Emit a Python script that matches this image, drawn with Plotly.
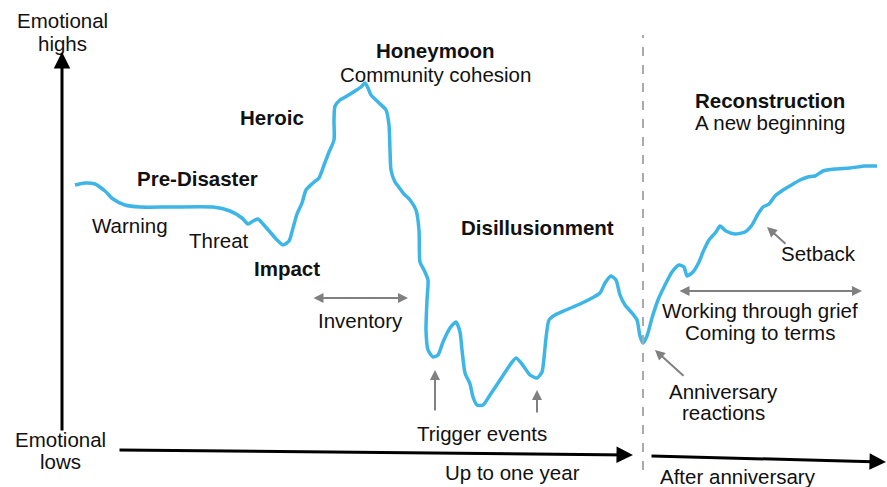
import plotly.graph_objects as go

# Emotional curve (time position, emotional level)
time_pos = [75, 85, 95, 105, 113, 125, 140, 170, 213, 230, 242, 248, 253, 258, 263, 270, 277, 283,
            289, 293, 297, 302, 306, 313, 319, 324, 329, 334, 334, 335, 340, 347, 355, 361, 365, 368,
            371, 378, 386, 389, 390, 391, 395, 398, 404, 410, 416, 419, 420, 424, 428, 427, 426, 428,
            433, 438, 443, 450, 456, 460, 462, 465, 470, 473, 477, 483, 490, 500, 510, 516, 522, 530,
            537, 542, 544, 546, 549, 555, 566, 580, 592, 600, 605, 611, 616, 620, 625, 632, 637, 640,
            643, 647, 652, 658, 665, 672, 679, 684, 687, 693, 699, 703, 709, 716, 720, 726, 735, 745,
            752, 758, 763, 769, 775, 783, 793, 800, 808, 815, 823, 835, 850, 865, 877]
emotion = [302, 304, 303, 296, 288, 282, 280, 280, 280, 276, 269, 263, 266, 268, 263, 255, 247, 242,
           246, 259, 273, 284, 297, 304, 309, 322, 335, 347, 367, 381, 387, 391, 396, 400, 404, 399,
           392, 385, 377, 362, 337, 317, 305, 301, 293, 287, 277, 257, 225, 217, 207, 187, 157, 137,
           130, 132, 145, 159, 165, 155, 137, 114, 103, 90, 82, 82, 92, 107, 122, 129, 123, 112,
           109, 115, 129, 149, 167, 172, 177, 183, 189, 194, 204, 211, 207, 192, 182, 174, 167, 151,
           144, 151, 169, 187, 202, 215, 222, 220, 211, 215, 225, 235, 247, 255, 261, 256, 253, 255,
           262, 273, 280, 283, 291, 297, 303, 307, 310, 311, 316, 318, 319, 321, 321]

# Labels, one line each: (text, x, y, bold)
labels = [
    ("Emotional", 62, 467, False),
    ("highs", 62, 444, False),
    ("Emotional", 60, 48, False),
    ("lows", 60, 26, False),
    ("Pre-Disaster", 197, 309, True),
    ("Warning", 130, 262, False),
    ("Threat", 219, 247, False),
    ("Impact", 287, 219, True),
    ("Heroic", 272, 370, True),
    ("Honeymoon", 435, 437, True),
    ("Community cohesion", 435, 413, False),
    ("Inventory", 360, 167, False),
    ("Disillusionment", 537, 260, True),
    ("Trigger events", 482, 54, False),
    ("Reconstruction", 770, 387, True),
    ("A new beginning", 770, 365, False),
    ("Setback", 818, 234, False),
    ("Working through grief", 760, 177, False),
    ("Coming to terms", 760, 155, False),
    ("Anniversary", 723, 96, False),
    ("reactions", 723, 75, False),
    ("Up to one year", 512, 15, False),
    ("After anniversary", 738, 11, False),
]

FONT = "Liberation Sans, Arial, sans-serif"
BLUE = "#3db5e6"
GREY = "#808080"

fig = go.Figure()
fig.add_trace(go.Scatter(
    x=time_pos, y=emotion, mode="lines",
    line=dict(color=BLUE, width=3.5, shape="spline", smoothing=0.6),
    hoverinfo="skip", showlegend=False,
))

annotations = []
for text, x, y, bold in labels:
    annotations.append(dict(
        x=x, y=y, xref="x", yref="y", showarrow=False,
        text=f"<b>{text}</b>" if bold else text,
        font=dict(family=FONT, size=20.5, color="#111111"),
        xanchor="center", yanchor="middle", align="center",
    ))


def arrow(x, y, ax, ay, color, width, both=False, size=1.0):
    return dict(
        x=x, y=y, ax=ax, ay=ay, xref="x", yref="y", axref="x", ayref="y",
        text="", showarrow=True, arrowhead=2, arrowsize=size, arrowwidth=width,
        arrowcolor=color, arrowside="end+start" if both else "end", standoff=0,
    )


# axes
annotations.append(arrow(62, 435, 62, 55, "#000000", 3, size=1.1))
annotations.append(arrow(633, 32, 118, 37, "#000000", 3, size=1.1))
annotations.append(arrow(886, 25, 650, 31, "#000000", 3, size=1.1))
# pointers
annotations.append(arrow(408, 189, 312, 189, GREY, 2, both=True))
annotations.append(arrow(862, 196, 678, 196, GREY, 2, both=True))
annotations.append(arrow(435, 117, 435, 75, GREY, 2))
annotations.append(arrow(537, 97, 537, 73, GREY, 2))
annotations.append(arrow(767, 260, 787, 242, GREY, 2))
annotations.append(arrow(655, 137, 685, 110, GREY, 2))

fig.add_shape(type="line", x0=643, x1=643, y0=17, y1=452, xref="x", yref="y",
              line=dict(color="#aaaaaa", width=2, dash="dash"))

fig.update_layout(
    width=887, height=487,
    margin=dict(l=0, r=0, t=0, b=0),
    paper_bgcolor="white", plot_bgcolor="white",
    xaxis=dict(range=[0, 887], visible=False, fixedrange=True),
    yaxis=dict(range=[0, 487], visible=False, fixedrange=True),
    annotations=annotations,
    font=dict(family=FONT),
)

# page body has a default 8px margin; drop it so the figure fills the window
fig.write_html("out.html", config={"displayModeBar": False},
               post_script="document.body.style.margin='0';document.body.style.overflow='hidden';")
